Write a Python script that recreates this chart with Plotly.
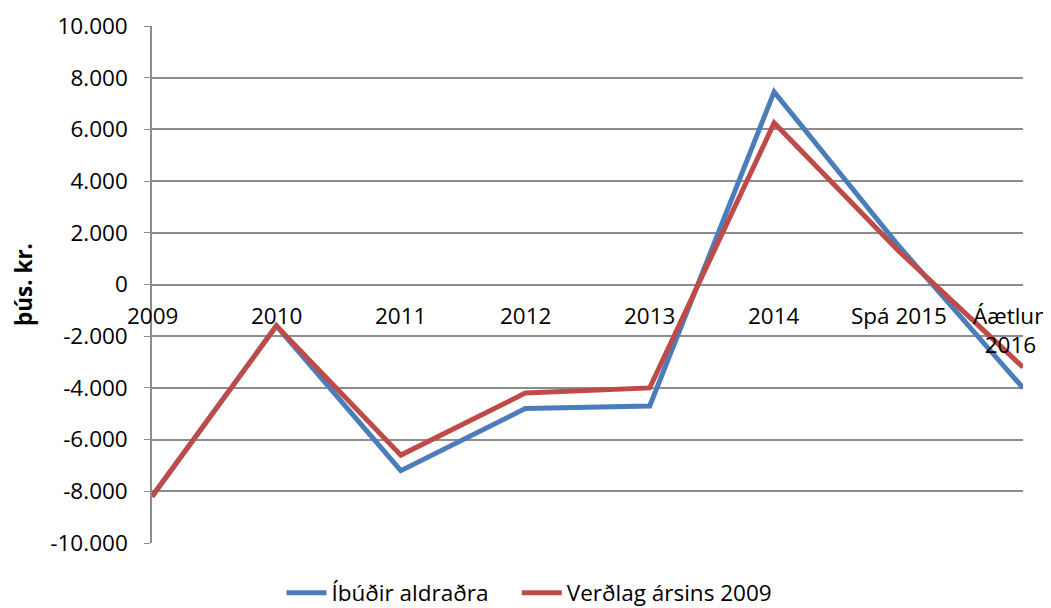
import plotly.graph_objects as go

categories = ["2009", "2010", "2011", "2012", "2013", "2014", "Spá 2015", "Áætlun 2016"]
tick_labels = ["2009", "2010", "2011", "2012", "2013", "2014", "Spá 2015", "Áætlun<br>2016"]
ibudir = [-8200, -1600, -7200, -4800, -4700, 7450, 1500, -4000]
verdlag = [-8200, -1600, -6600, -4200, -4000, 6250, 1300, -3200]
y_ticks = list(range(-10000, 10001, 2000))
y_labels = [f"{v:,}".replace(",", ".") for v in y_ticks]

font_name = "Open Sans"
fs = 22.5

fig = go.Figure()
fig.add_trace(go.Scatter(
    x=categories, y=ibudir, mode="lines", name="Íbúðir aldraðra" + "&nbsp;" * 4,
    line=dict(color="#4A7EBB", width=5),
))
fig.add_trace(go.Scatter(
    x=categories, y=verdlag, mode="lines", name="Verðlag ársins 2009",
    line=dict(color="#BE4B48", width=5),
))

# category labels sit on the zero line, like the original Excel chart
# (x given as category index, "2009" would be read as a number)
for i, lab in enumerate(tick_labels):
    fig.add_annotation(
        x=i, y=0, xref="x", yref="y", text=lab, showarrow=False,
        xanchor="center", yanchor="top", yshift=-13,
        xshift=-13 if i == len(tick_labels) - 1 else 0,
        font=dict(size=fs, color="black"),
    )

# the page body has an 8px margin, so the figure is a bit smaller than the window
fig.update_layout(
    width=1043, height=600,
    margin=dict(l=144, r=28, t=18, b=65),
    plot_bgcolor="white", paper_bgcolor="white",
    font=dict(family=font_name, size=fs, color="black"),
    legend=dict(orientation="h", xref="container", yref="container",
                x=0.5, xanchor="center", y=0.025, yanchor="middle",
                font=dict(size=fs), itemwidth=40),
    xaxis=dict(
        type="category", range=[0, 7], automargin=False,
        showticklabels=False, showline=False, showgrid=False, ticks="",
    ),
    yaxis=dict(
        range=[-10000, 10000], tickvals=y_ticks, ticktext=y_labels, automargin=False,
        showgrid=True, gridcolor="#8C8C8C", gridwidth=1.5,
        showline=True, linecolor="#8C8C8C", linewidth=1.5,
        ticks="outside", ticklen=6, tickcolor="#8C8C8C", ticklabelstandoff=12,
        zeroline=True, zerolinecolor="#8C8C8C", zerolinewidth=1.5,
        tickfont=dict(size=fs),
        title=dict(text="<b>þús. kr.</b>", font=dict(size=fs), standoff=12),
    ),
)

fig.write_html("out.html")
